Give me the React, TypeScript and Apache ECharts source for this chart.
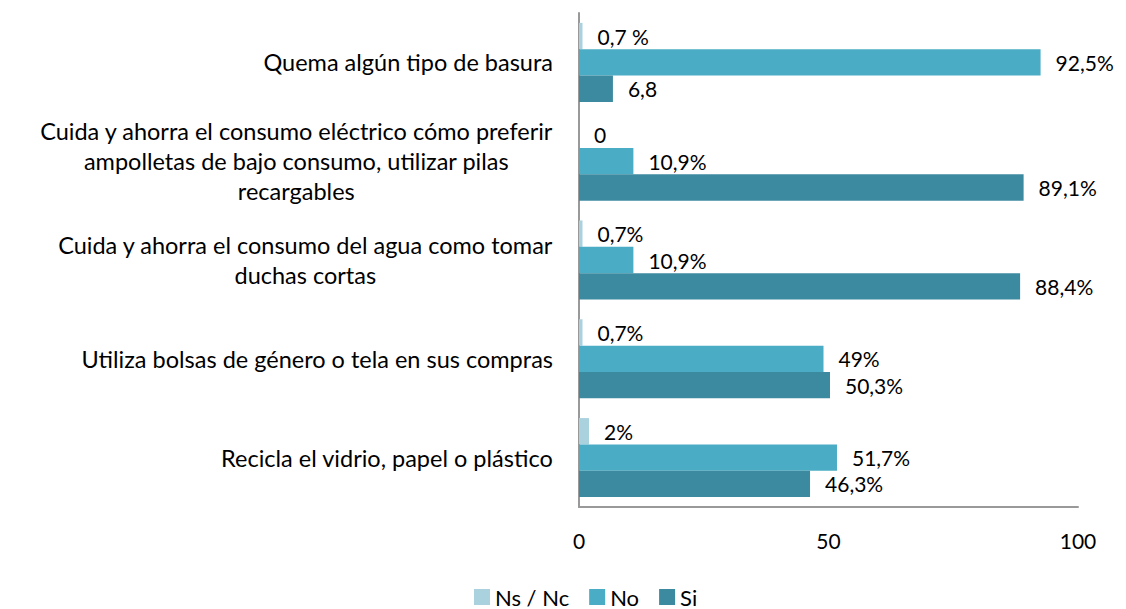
import React, { useEffect, useRef } from "react";
import * as echarts from "echarts";

const categories: string[] = [
  "Quema algún tipo de basura",
  "Cuida y ahorra el consumo eléctrico cómo preferir\nampolletas de bajo consumo, utilizar pilas\nrecargables",
  "Cuida y ahorra el consumo del agua como tomar\nduchas cortas",
  "Utiliza bolsas de género o tela en sus compras",
  "Recicla el vidrio, papel o plástico",
];

const seriesNames: string[] = ["Ns / Nc", "No", "Si"];

const nsncValues: number[] = [0.7, 0, 0.7, 0.7, 2];
const noValues: number[] = [92.5, 10.9, 10.9, 49, 51.7];
const siValues: number[] = [6.8, 89.1, 88.4, 50.3, 46.3];

const nsncLabels: string[] = ["0,7 %", "0", "0,7%", "0,7%", "2%"];
const noLabels: string[] = ["92,5%", "10,9%", "10,9%", "49%", "51,7%"];
const siLabels: string[] = ["6,8", "89,1%", "88,4%", "50,3%", "46,3%"];

const xTicks: number[] = [0, 50, 100];

const colors = ["#a9d1de", "#4aacc5", "#3c8aa0"];
const FONT = "Lato";

export default function App() {
  const ref = useRef<HTMLDivElement>(null);
  useEffect(() => {
    if (!ref.current) return;
    const chart = echarts.init(ref.current, null, { renderer: "svg" });
    const values = [nsncValues, noValues, siValues];
    const labels = [nsncLabels, noLabels, siLabels];
    chart.setOption({
      animation: false,
      textStyle: { fontFamily: FONT },
      legend: {
        data: seriesNames,
        left: 474,
        top: 585,
        padding: 0,
        icon: "rect",
        itemWidth: 16,
        itemHeight: 16,
        itemGap: 20,
        textStyle: { fontFamily: FONT, fontSize: 22, lineHeight: 24, color: "#000" },
      },
      grid: { left: 579, right: 48, top: 13, bottom: 102, containLabel: false },
      xAxis: {
        type: "value",
        min: xTicks[0],
        max: xTicks[xTicks.length - 1],
        interval: 50,
        axisLine: { show: true, lineStyle: { color: "#999", width: 2 } },
        axisTick: { show: false },
        splitLine: { show: false },
        axisLabel: { fontFamily: FONT, fontSize: 21, color: "#000", margin: 23 },
      },
      yAxis: {
        type: "category",
        inverse: true,
        data: categories,
        axisLine: { show: true, lineStyle: { color: "#999", width: 2 } },
        axisTick: { show: false },
        axisLabel: {
          margin: 26,
          align: "right",
          formatter: (v: string) => v.split("\n").map((l) => `{c|${l}}`).join("\n"),
          rich: {
            c: { align: "center", fontFamily: FONT, fontSize: 23.5, color: "#000", lineHeight: 30 },
          },
        },
      },
      series: seriesNames.map((name, si) => ({
        name,
        type: "bar",
        data: values[si],
        barGap: "0%",
        barCategoryGap: "20%",
        itemStyle: { color: colors[si] },
        label: {
          show: true,
          position: "right",
          distance: 15,
          fontFamily: FONT,
          fontSize: 21,
          color: "#000",
          formatter: (p: any) => labels[si][p.dataIndex],
        },
      })),
    });
    return () => chart.dispose();
  }, []);
  return (
    <div
      ref={ref}
      style={{ position: "fixed", left: 0, top: 0, width: 1126, height: 609, background: "#fff" }}
    />
  );
}
